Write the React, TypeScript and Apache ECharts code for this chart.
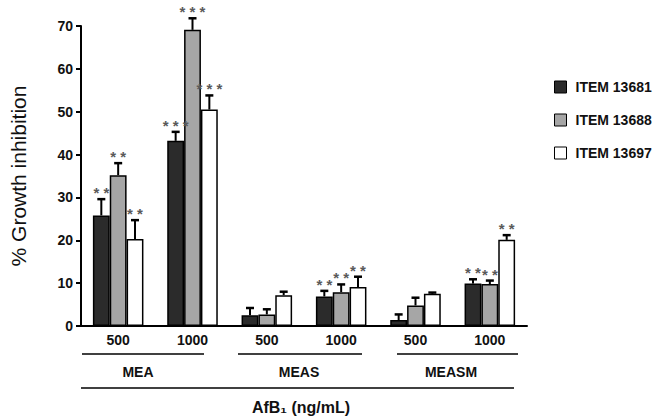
import React, { useEffect, useRef } from "react";
import * as echarts from "echarts";

const categories = ["MEA|500", "MEA|1000", "MEAS|500", "MEAS|1000", "MEASM|500", "MEASM|1000"];
const seriesNames = ["ITEM 13681", "ITEM 13688", "ITEM 13697"];
const item13681 = [25.8, 43.2, 2.5, 6.9, 1.4, 9.9];
const item13688 = [35.2, 69.1, 2.7, 7.9, 4.8, 9.8];
const item13697 = [20.3, 50.5, 7.2, 9.1, 7.5, 20.1];
const err13681 = [29.6, 45.3, 4.2, 8.2, 2.7, 10.9];
const err13688 = [38.0, 71.8, 3.9, 9.7, 6.6, 10.6];
const err13697 = [24.7, 53.8, 8.0, 11.5, 7.8, 21.2];
const stars13681 = ["**", "***", "", "**", "", "**"];
const stars13688 = ["**", "***", "", "**", "", "**"];
const stars13697 = ["**", "***", "", "**", "", "**"];
const yTicks = [0, 10, 20, 30, 40, 50, 60, 70];
const groups = ["MEA", "MEAS", "MEASM"];

const values = [item13681, item13688, item13697];
const errs = [err13681, err13688, err13697];
const stars = [stars13681, stars13688, stars13697];
const fills = ["#2b2b2b", "#a6a6a6", "#ffffff"];
const FONT = "'Liberation Sans', Arial, sans-serif";
const GAP = 0.32;

export default function App() {
  const ref = useRef<HTMLDivElement>(null);
  useEffect(() => {
    if (!ref.current) return;
    const chart = echarts.init(ref.current, null, { renderer: "svg" });
    const barSeries = seriesNames.map((name, s) => ({
      name,
      type: "bar",
      data: values[s],
      barGap: "0%",
      barCategoryGap: `${GAP * 100}%`,
      itemStyle: { color: fills[s], borderColor: "#000", borderWidth: 1.5 },
      z: 2,
    }));
    const errSeries = seriesNames.map((name, s) => ({
      name: name + " err",
      type: "custom",
      z: 5,
      encode: { x: 0, y: 1 },
      data: values[s].map((v, i) => [i, v, errs[s][i]]),
      renderItem: (params: any, api: any) => {
        const ci = api.value(0);
        const v = api.value(1);
        const e = api.value(2);
        const band = api.size([1, 0])[0];
        const bw = (band * (1 - GAP)) / 3;
        const off = (s - 1) * bw;
        const p0 = api.coord([ci, v]);
        const p1 = api.coord([ci, e]);
        const x = p0[0] + off;
        const st = stars[s][params.dataIndex];
        const children: any[] = [
          { type: "line", shape: { x1: x, y1: p0[1], x2: x, y2: p1[1] }, style: { stroke: "#000", lineWidth: 2 } },
          { type: "line", shape: { x1: x - 4, y1: p1[1], x2: x + 4, y2: p1[1] }, style: { stroke: "#000", lineWidth: 2.5 } },
        ];
        if (st) {
          children.push({
            type: "text",
            x,
            y: p1[1] + 1,
            style: {
              text: st.split("").join(" "),
              fill: "#5a5a5a",
              font: `bold 15px ${FONT}`,
              textAlign: "center",
              textVerticalAlign: "bottom",
            },
          });
        }
        return { type: "group", children };
      },
    }));
    const lineStyle = { stroke: "#000", lineWidth: 1.5 };
    chart.setOption({
      animation: false,
      grid: { left: 77, right: 133, top: 26, bottom: 94 },
      legend: {
        data: seriesNames,
        orient: "vertical",
        left: 549,
        top: 75,
        itemWidth: 12,
        itemHeight: 12,
        itemGap: 19,
        icon: "rect",
        selectedMode: false,
        itemStyle: { borderColor: "#000", borderWidth: 1 },
        textStyle: { fontFamily: FONT, fontWeight: "bold", fontSize: 14, color: "#111", padding: [0, 0, 0, 4] },
      },
      xAxis: {
        type: "category",
        data: categories,
        axisLine: { lineStyle: { color: "#000", width: 2 } },
        axisTick: { show: false },
        axisLabel: {
          margin: 7,
          formatter: (v: string) => v.split("|")[1],
          fontFamily: FONT,
          fontWeight: "bold",
          fontSize: 14,
          color: "#111",
        },
      },
      yAxis: {
        type: "value",
        min: yTicks[0],
        max: yTicks[yTicks.length - 1],
        interval: 10,
        name: "% Growth inhibition",
        nameLocation: "middle",
        nameRotate: 90,
        nameGap: 52,
        nameTextStyle: { fontFamily: FONT, fontSize: 21, color: "#111" },
        axisLine: { show: true, lineStyle: { color: "#000", width: 2 } },
        axisTick: { show: true, length: 5, lineStyle: { color: "#000", width: 2 } },
        splitLine: { show: false },
        axisLabel: { margin: 8, fontFamily: FONT, fontWeight: "bold", fontSize: 14, color: "#111" },
      },
      series: [...barSeries, ...errSeries],
      graphic: [
        { type: "line", shape: { x1: 82, y1: 354, x2: 204, y2: 354 }, style: lineStyle },
        { type: "line", shape: { x1: 238, y1: 354, x2: 362, y2: 354 }, style: lineStyle },
        { type: "line", shape: { x1: 397, y1: 354, x2: 518, y2: 354 }, style: lineStyle },
        { type: "line", shape: { x1: 81, y1: 388, x2: 514, y2: 388 }, style: lineStyle },
        ...groups.map((g, i) => ({
          type: "text",
          x: [138, 299, 451][i],
          y: 372,
          style: { text: g, font: `bold 14px ${FONT}`, fill: "#111", textAlign: "center", textVerticalAlign: "middle" },
        })),
        {
          type: "text",
          x: 301,
          y: 407,
          style: { text: "AfB₁ (ng/mL)", font: `bold 16px ${FONT}`, fill: "#111", textAlign: "center", textVerticalAlign: "middle" },
        },
      ],
    });
    return () => chart.dispose();
  }, []);
  return <div ref={ref} style={{ position: "absolute", left: 0, top: 0, width: 660, height: 420 }} />;
}
